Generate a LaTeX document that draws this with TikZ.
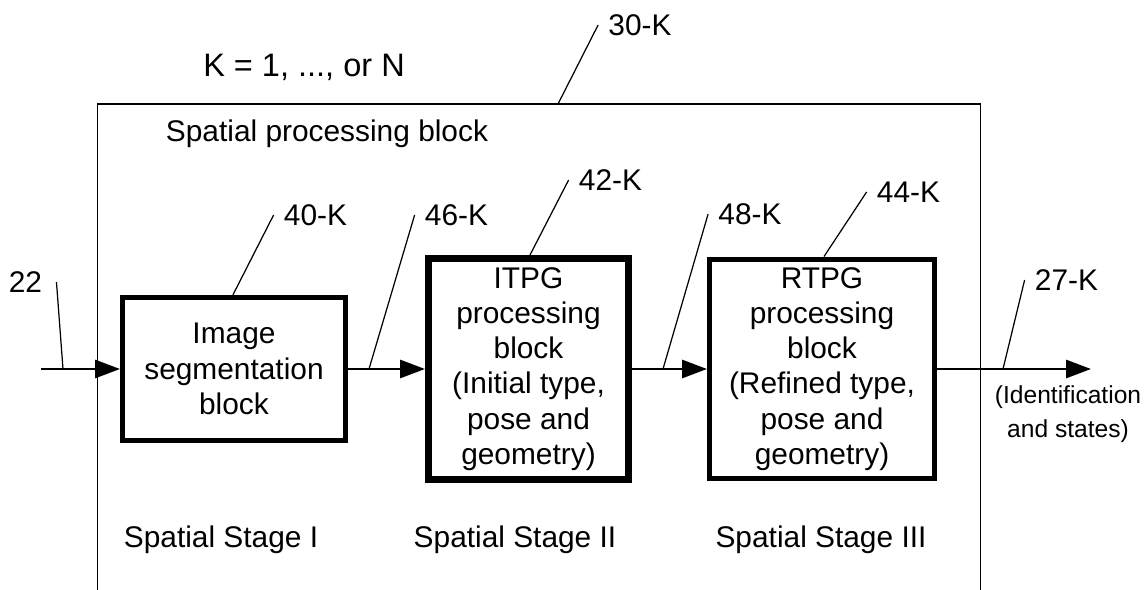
\documentclass[tikz,border=0pt]{standalone}
\usepackage{fontspec}
\setmainfont{Liberation Sans}
\usepackage{tikz}
\usetikzlibrary{calc,arrows.meta}
\definecolor{ink}{HTML}{000000}
\definecolor{paper}{HTML}{FFFFFF}
\tikzset{
  blockbox/.style={draw=ink, line width=2.85pt, align=center, inner sep=0pt,
    text=ink, font=\fontsize{17}{20}\selectfont},
  flow/.style={draw=ink, line width=1.7pt, -{Triangle[length=0.5cm,width=0.36cm]}},
  leader/.style={draw=ink, line width=0.7pt},
  reflabel/.style={text=ink, inner sep=0pt, font=\fontsize{17}{20}\selectfont},
}

\begin{document}
\begin{tikzpicture}[x=0.02cm, y=-0.02cm]
\useasboundingbox[fill=paper] (0,0) rectangle (1148,590);
% outer block, runs off the bottom
\draw[ink, line width=0.85pt] (97.5,590) -- (97.5,104) -- (980.5,104) -- (980.5,590);
\node[reflabel, anchor=base, font=\fontsize{18.5}{22}\selectfont] (kline) at (304,77) {K = 1, ..., or N};
\node[reflabel, anchor=base] (sptitle) at (327,142) {Spatial processing block};

% stage blocks
\node[blockbox, minimum width=4.46cm, minimum height=2.87cm] (seg) at (234,369) {Image\\segmentation\\block};
\node[blockbox, line width=4pt, minimum width=4.0cm, minimum height=4.42cm] (itpg) at (528.5,369) {ITPG\\processing\\block\\(Initial type,\\pose and\\geometry)};
\node[blockbox, minimum width=4.5cm, minimum height=4.4cm] (rtpg) at (822,369) {RTPG\\processing\\block\\(Refined type,\\pose and\\geometry)};

\coordinate (in) at (41,369);
\coordinate (out) at (1091,369);
\draw[flow] (in) -- (seg);
\draw[flow] (seg) -- (itpg);
\draw[flow] (itpg) -- (rtpg);
\draw[flow] (rtpg) -- (out);
\node[reflabel, anchor=north, align=center, font=\fontsize{14}{19.4}\selectfont] (ident) at (1068,385) {(Identification\\and states)};

% leader ends
\coordinate (t30) at (558,104);
\coordinate (t40) at (233,0 |- seg.north);
\coordinate (t46) at (369,369);
\coordinate (t42) at (530,0 |- itpg.north);
\coordinate (t48) at (663,369);
\coordinate (t44) at (824,0 |- rtpg.north);
\coordinate (t27) at (1003,369);
\coordinate (t22) at (63,369);

\foreach \nm/\px/\py/\tip in {30/640/25/t30, 40/315.5/215/t40, 46/456.5/215/t46, 42/610.5/180/t42, 48/750/214/t48, 44/908.5/192/t44, 27/1066.5/280/t27}{
  \node[reflabel] (l\nm) at (\px,\py) {\nm-K};
  \draw[leader] ([xshift=-0.2cm]l\nm.west) -- (\tip);
}
\node[reflabel] (l22) at (25.5,282) {22};
\draw[leader] ([xshift=0.28cm]l22.east) -- (t22);

\foreach \nm/\txt/\px in {one/I/221, two/II/515, three/III/821}
  \node[reflabel, anchor=base] (stage\nm) at (\px,547) {Spatial Stage \txt};
\end{tikzpicture}
\end{document}
